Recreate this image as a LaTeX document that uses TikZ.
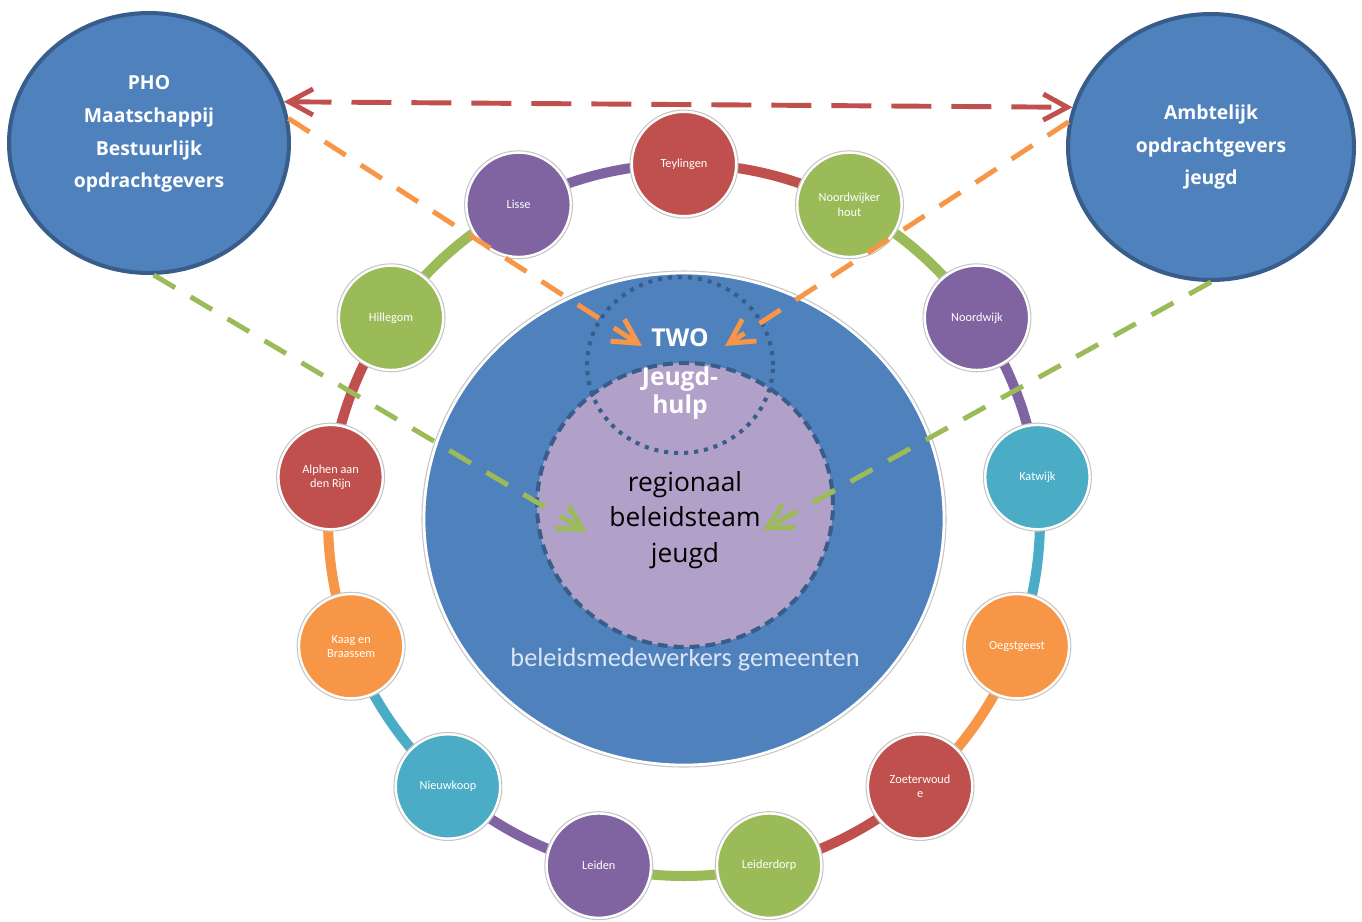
\documentclass[tikz,border=0pt]{standalone}
\usepackage{fontspec}
\setmainfont{Open Sans}
\newfontfamily\calfont{Carlito}
\usetikzlibrary{arrows.meta,shapes.geometric}
\definecolor{BoxBlue}{HTML}{4F81BD}
\definecolor{EdgeBlue}{HTML}{385D8A}
\definecolor{LavClr}{HTML}{B1A0C7}
\definecolor{RedClr}{HTML}{C0504D}
\definecolor{GreenClr}{HTML}{9BBB59}
\definecolor{PurpleClr}{HTML}{8064A2}
\definecolor{CyanClr}{HTML}{4BACC6}
\definecolor{OrangeClr}{HTML}{F79646}
\definecolor{SoftWhite}{HTML}{DCE6F2}

\begin{document}
\begin{tikzpicture}[x=0.02cm,y=-0.02cm,
  opdracht/.style={ellipse,draw=EdgeBlue,line width=2.3pt,fill=BoxBlue,inner sep=0pt},
  kop/.style={text=white,align=center,font=\bfseries\fontsize{11}{18.7}\selectfont},
  gemeente/.style={circle,fill=#1,draw=white,line width=1.7pt,minimum size=2.1cm,inner sep=0pt,
    text=white,align=center,font=\calfont\fontsize{7}{8}\selectfont},
  ringlink/.style={line width=5.7pt,draw=#1},
  flow/.style={line width=2.8pt,draw=#1,dash pattern=on 0.5cm off 0.36cm,
    -{Straight Barb[length=0.48cm,width=0.52cm]}}]
\useasboundingbox (0,0) rectangle (1362,921);

% central circles
\node[ellipse,fill=BoxBlue,draw=white,line width=1.5pt,minimum width=10.4cm,minimum height=9.84cm] (gem) at (684,519) {};
\draw[gray!45,line width=0.6pt] (gem) ellipse [x radius=262, y radius=248];
\node[font=\calfont\fontsize{15}{18}\selectfont,text=SoftWhite] (gemtxt) at (685,660) {beleidsmedewerkers gemeenten};

\node[ellipse,fill=LavClr,draw=EdgeBlue,line width=2.3pt,dash pattern=on 0.2cm off 0.12cm,
  minimum width=5.92cm,minimum height=5.68cm] (team) at (685,505) {};
\node[ellipse,draw=EdgeBlue,line width=2.3pt,dash pattern=on 2.3pt off 3.4pt,
  minimum width=3.72cm,minimum height=3.52cm] (two) at (680,365) {};

\node[align=center,font=\fontsize{15}{20.4}\selectfont] (teamtxt) at (685,520) {regionaal\\beleidsteam\\jeugd};
\node[align=center,text=white,font=\bfseries\fontsize{14}{16}\selectfont] (twotxt) at (680,374) {TWO\\[6pt]Jeugd-\\hulp};

% ring of gemeenten
\begin{scope}[shift={(684,520)}]
\foreach \clr [count=\i from 0] in {RedClr,GreenClr,PurpleClr,CyanClr,OrangeClr,RedClr,GreenClr,
    PurpleClr,CyanClr,OrangeClr,RedClr,GreenClr,PurpleClr}
{
  \pgfmathsetmacro\a{-90+360/13*\i}
  \draw[ringlink=\clr] (\a:356) arc[start angle=\a, end angle=\a+360/13, radius=356];
}
\foreach \nm/\clr/\txt [count=\i from 0] in {teylingen/RedClr/Teylingen,
    nwhout/GreenClr/{Noordwijker\\hout},
    noordwijk/PurpleClr/Noordwijk,
    katwijk/CyanClr/Katwijk,
    oegstgeest/OrangeClr/Oegstgeest,
    zoeterwoude/RedClr/{Zoeterwoud\\e},
    leiderdorp/GreenClr/Leiderdorp,
    leiden/PurpleClr/Leiden,
    nieuwkoop/CyanClr/Nieuwkoop,
    kaag/OrangeClr/{Kaag en\\Braassem},
    alphen/RedClr/{Alphen aan\\den Rijn},
    hillegom/GreenClr/Hillegom,
    lisse/PurpleClr/Lisse}
{
  \pgfmathsetmacro\a{-90+360/13*\i}
  \node[gemeente=\clr] (\nm) at (\a:356) {\txt};
  \draw[gray!45,line width=0.6pt] (\nm) circle[radius=1.08cm];
}
\end{scope}

% opdrachtgevers
\node[opdracht,minimum width=5.6cm,minimum height=5.2cm] (pho) at (149,143) {};
\node[kop] (photxt) at (149,134) {PHO\\Maatschappij\\Bestuurlijk\\opdrachtgevers};
\node[opdracht,kop,minimum width=5.72cm,minimum height=5.32cm] (amb) at (1211,147) {Ambtelijk\\opdrachtgevers\\jeugd};

\coordinate (twoL) at (642,346);
\coordinate (twoR) at (725,346);
\coordinate (teamL) at (587,532);
\coordinate (teamR) at (763,530);

% arrows
\draw[flow=RedClr,dash pattern=on 0.8cm off 0.4cm,
  {Straight Barb[length=0.48cm,width=0.52cm]}-{Straight Barb[length=0.48cm,width=0.52cm]}] (pho.17) -- (amb.164);
\draw[flow=OrangeClr] (pho.10) -- (twoL);
\draw[flow=OrangeClr] (amb.170) -- (twoR);
\draw[flow=GreenClr] (pho.-88) -- (teamL);
\draw[flow=GreenClr] (amb.-90) -- (teamR);
\end{tikzpicture}
\end{document}
